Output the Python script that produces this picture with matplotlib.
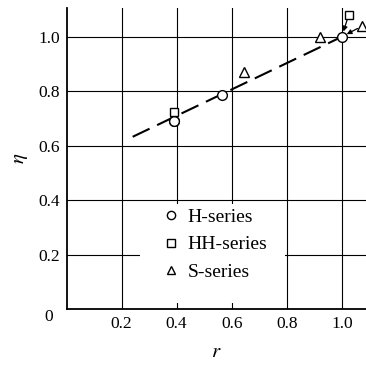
import matplotlib
matplotlib.use("Agg")
import matplotlib.pyplot as plt
from matplotlib.patches import Rectangle

# measured points
h_r = [0.39, 0.39, 0.565, 1.0]
h_eta = [0.69, 0.69, 0.785, 1.0]
hh_r = [0.39, 1.025]
hh_eta = [0.725, 1.08]
s_r = [0.645, 0.92, 1.075]
s_eta = [0.87, 1.0, 1.04]

# fitted trend line end points
fit_r = [0.24, 1.0]
fit_eta = [0.633, 1.0]

ticks = [0.2, 0.4, 0.6, 0.8, 1.0]
tick_labels = ["0.2", "0.4", "0.6", "0.8", "1.0"]

plt.rcParams["font.family"] = ["Liberation Serif", "DejaVu Serif"]
plt.rcParams["mathtext.fontset"] = "stix"

fig = plt.figure(figsize=(3.66, 3.65), dpi=100)
ax = fig.add_axes([0.182, 0.1526, 0.818, 0.825])
ax.set_xlim(0, 1.088)
ax.set_ylim(0, 1.105)

for t in ticks:
    ax.axhline(t, color="black", lw=0.8, zorder=1)
    ax.axvline(t, color="black", lw=0.8, zorder=1)

# blank area behind the legend
ax.add_patch(Rectangle((0.267, 0.023), 0.527, 0.363, facecolor="white",
                       edgecolor="none", zorder=1.5))

ax.plot(fit_r, fit_eta, color="black", lw=1.5, dashes=(9, 4), zorder=2)

mk = dict(linestyle="none", mfc="white", mec="black", mew=1.0, zorder=4)
ax.plot(h_r, h_eta, marker="o", ms=7, label="H-series", **mk)
ax.plot(hh_r, hh_eta, marker="s", ms=6, label="HH-series", **mk)
ax.plot(s_r, s_eta, marker="^", ms=7, label="S-series", **mk)

arrow = dict(arrowstyle="-|>", color="black", lw=0.9, mutation_scale=7,
             shrinkA=4, shrinkB=4)
ax.annotate("", xy=(h_r[-1], h_eta[-1]), xytext=(hh_r[-1], hh_eta[-1]),
            arrowprops=arrow, zorder=3)
ax.annotate("", xy=(h_r[-1], h_eta[-1]), xytext=(s_r[-1], s_eta[-1]),
            arrowprops=arrow, zorder=3)

ax.set_xticks(ticks)
ax.set_xticklabels(tick_labels, fontsize=12.5)
ax.set_yticks(ticks)
ax.set_yticklabels(tick_labels, fontsize=12.5)
ax.tick_params(length=0, pad=5)
ax.text(-0.065, -0.03, "0", transform=ax.transData, fontsize=12.5,
        ha="center", va="center")

for side in ("top", "right"):
    ax.spines[side].set_visible(False)
for side in ("left", "bottom"):
    ax.spines[side].set_linewidth(1.3)

ax.set_xlabel(r"$r$", fontsize=15, labelpad=8)
ax.set_ylabel(r"$\eta$", fontsize=15, labelpad=6)

leg = ax.legend(loc="upper left", bbox_to_anchor=(0.32, 0.335), frameon=False,
                fontsize=14, handletextpad=0.45, labelspacing=0.5,
                borderpad=0.0, borderaxespad=0.0, handlelength=0.85,
                markerscale=0.85)

fig.savefig("out.png", dpi=100)
